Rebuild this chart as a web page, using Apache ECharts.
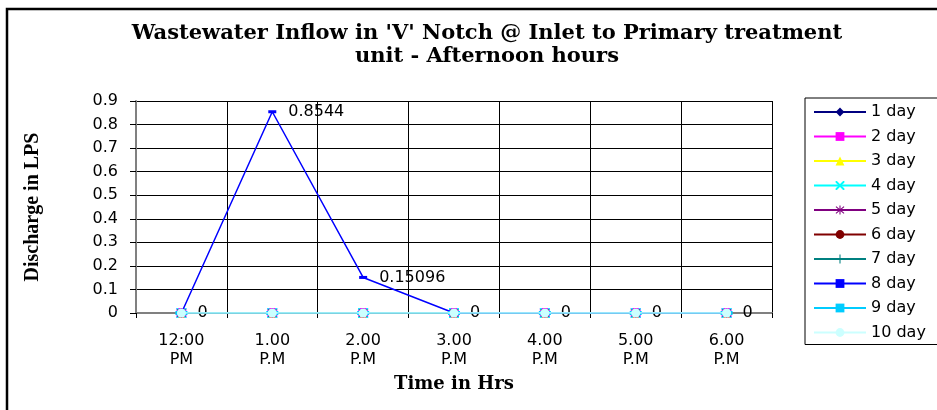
<!DOCTYPE html>
<html lang="en">

<head>
    <meta charset="UTF-8">
    <title>Wastewater Inflow</title>
    <script src="https://cdn.jsdelivr.net/npm/echarts@6/dist/echarts.min.js"></script>
</head>

<body style="margin:0;background-color:#fff;">
    <div id="main" style="position:absolute;left:0;top:0;width:937px;height:410px"></div>

    <script>
        // time slots on the x axis
        var hours = ['12:00\nPM', '1.00\nP.M', '2.00\nP.M', '3.00\nP.M', '4.00\nP.M', '5.00\nP.M', '6.00\nP.M'];
        var dayNames = ['1 day', '2 day', '3 day', '4 day', '5 day', '6 day', '7 day', '8 day', '9 day', '10 day'];
        // discharge in LPS per day
        var day1 = [0, 0, 0, 0, 0, 0, 0];
        var day2 = [0, 0, 0, 0, 0, 0, 0];
        var day3 = [0, 0, 0, 0, 0, 0, 0];
        var day4 = [0, 0, 0, 0, 0, 0, 0];
        var day5 = [0, 0, 0, 0, 0, 0, 0];
        var day6 = [0, 0, 0, 0, 0, 0, 0];
        var day7 = [0, 0, 0, 0, 0, 0, 0];
        var day8 = [0, 0.8544, 0.15096, 0, 0, 0, 0];
        var day9 = [0, 0, 0, 0, 0, 0, 0];
        var day10 = [0, 0, 0, 0, 0, 0, 0];
        var yTicks = [0, 0.1, 0.2, 0.3, 0.4, 0.5, 0.6, 0.7, 0.8, 0.9];

        var sans = 'DejaVu Sans, Arial';
        var serif = 'DejaVu Serif, Times New Roman';

        var allDays = [day1, day2, day3, day4, day5, day6, day7, day8, day9, day10];
        var colors = ['#000080', '#ff00ff', '#ffff00', '#00ffff', '#800080', '#800000', '#008080', '#0000ff', '#00ccff', '#ccffff'];
        var xPath = 'path://M0,0 L1.5,0 L10,8.5 L10,10 L8.5,10 L0,1.5 Z M8.5,0 L10,0 L10,1.5 L1.5,10 L0,10 L0,8.5 Z';
        var starPath = 'path://M4.4,0 H5.6 V10 H4.4 Z M0,1.5 L0.8,0.6 L10,8.5 L9.2,9.4 Z M9.2,0.6 L10,1.5 L0.8,9.4 L0,8.5 Z';
        var plusPath = 'path://M4.4,0 H5.6 V10 H4.4 Z M0,4.4 H10 V5.6 H0 Z';
        var symbols = ['diamond', 'rect', 'triangle', xPath, starPath, 'circle', plusPath,
            'path://M0,0 H10 V3 H0 Z', 'path://M0,0 H10 V3 H0 Z', 'circle'];
        var sizes = [10, 10, 9, 10, 9, 8, 9, [8, 3], [12, 4], 9];

        var series = allDays.map(function(d, i) {
            var s = {
                name: dayNames[i],
                type: 'line',
                data: d,
                symbol: symbols[i],
                symbolSize: sizes[i],
                showAllSymbol: true,
                lineStyle: { color: colors[i], width: 1.5 },
                itemStyle: { color: colors[i] },
                z: 2 + i
            };
            if (i === 7) {
                s.label = {
                    show: true,
                    position: 'right',
                    distance: 12,
                    color: '#000',
                    fontFamily: sans,
                    fontSize: 16
                };
                s.labelLayout = { hideOverlap: false };
            }
            return s;
        });

        var myCharts = echarts.init(document.getElementById('main'));
        myCharts.setOption({
            animation: false,
            title: {
                text: "Wastewater Inflow in 'V' Notch @ Inlet to Primary treatment\nunit - Afternoon hours",
                left: 482,
                top: 17,
                textAlign: 'center',
                textStyle: {
                    fontFamily: serif,
                    fontWeight: 'bold',
                    fontSize: 21,
                    lineHeight: 23,
                    color: '#000'
                }
            },
            legend: {
                orient: 'vertical',
                left: 805,
                top: 98,
                itemWidth: 52,
                itemHeight: 11,
                itemGap: 8.5,
                padding: [6, 40, 4, 8],
                borderColor: '#000',
                borderWidth: 1,
                textStyle: { fontFamily: sans, fontSize: 16, color: '#000' },
                data: dayNames
            },
            grid: { left: 136, right: 165, top: 101, bottom: 97 },
            xAxis: {
                type: 'category',
                data: hours,
                boundaryGap: true,
                name: 'Time in Hrs',
                nameLocation: 'middle',
                nameGap: 62,
                nameTextStyle: { fontFamily: serif, fontWeight: 'bold', fontSize: 18, color: '#000' },
                axisLine: { lineStyle: { color: '#808080', width: 2 } },
                axisTick: { show: true, length: 5, lineStyle: { color: '#000' } },
                axisLabel: { color: '#000', fontFamily: sans, fontSize: 16, lineHeight: 19, margin: 18, interval: 0 },
                splitLine: { show: true, lineStyle: { color: '#000', width: 1 } }
            },
            yAxis: {
                type: 'value',
                min: 0,
                max: yTicks[yTicks.length - 1],
                interval: 0.1,
                name: 'Discharge in LPS',
                nameLocation: 'middle',
                nameGap: 93,
                nameTextStyle: { fontFamily: 'Liberation Serif, Times New Roman', fontWeight: 'bold', fontSize: 20, color: '#000' },
                axisLine: { show: true, lineStyle: { color: '#808080', width: 2 } },
                axisTick: { show: true, length: 6, lineStyle: { color: '#000' } },
                axisLabel: {
                    color: '#000', fontFamily: sans, fontSize: 16, margin: 18,
                    formatter: function(v) { return yTicks.indexOf(+v.toFixed(1)) >= 0 ? String(+v.toFixed(1)) : ''; }
                },
                splitLine: { show: true, lineStyle: { color: '#000', width: 1 } }
            },
            graphic: [{
                type: 'rect',
                shape: { x: 7, y: 9, width: 1000, height: 500 },
                style: { fill: null, stroke: '#000', lineWidth: 2.5 },
                silent: true
            }],
            series: series
        });
    </script>
</body>

</html>
